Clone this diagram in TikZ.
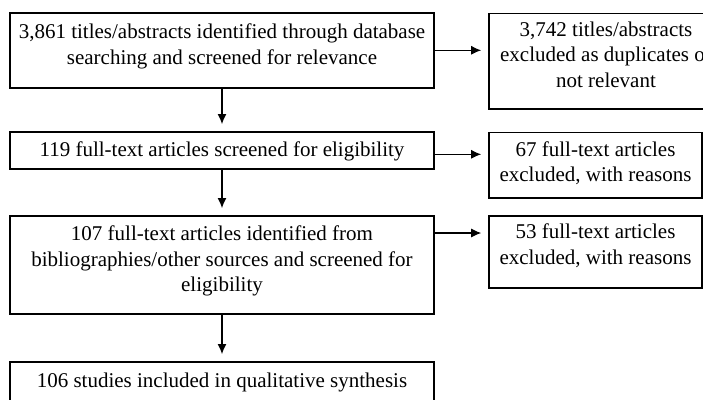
\documentclass[tikz,border=0pt]{standalone}
\usepackage{fontspec}
\setmainfont{Liberation Serif}
\usetikzlibrary{arrows.meta,positioning}

\begin{document}
\begin{tikzpicture}
	[x=1pt, y=-1pt, font=\fontsize{21}{25.5}\selectfont,
	% STYLES
	% The stage style is used for the boxes of the main column
	stage/.style={rectangle, draw, line width=1.6pt, inner xsep=2pt, inner ysep=0pt, anchor=north, align=center, minimum width=424pt},
	% The excluded style is used for the boxes on the right
	excluded/.style={rectangle, draw, line width=1.6pt, inner xsep=2pt, inner ysep=0pt, anchor=north, align=center},
	% The flow style is used for the arrows
	flow/.style={-{Latex[length=10pt,width=9pt]}, line width=1.1pt, shorten >=7pt}]
	\useasboundingbox (0,0) rectangle (703,399);
	\clip (0,0) rectangle (703,399);
	% Draw stages
	\node [stage, text height=51.5pt, text depth=23.5pt] (found) at (222,12) {3,861 titles/abstracts identified through database\\searching and screened for relevance};
	\node [stage, text height=25pt, text depth=12pt] (screened) at (222,131) {119 full-text articles screened for eligibility};
	\node [stage, text height=76pt, text depth=22pt] (other) at (222,215) {107 full-text articles identified from\\bibliographies/other sources and screened for\\eligibility};
	\node [stage, text height=26pt, text depth=18pt] (included) at (222,361) {106 studies included in qualitative synthesis};
	% Draw exclusions
	\node [excluded, minimum width=234pt, text height=74pt, text depth=21.8pt] (dupl) at (606,12.5) {3,742 titles/abstracts\\excluded as duplicates or\\not relevant};
	\node [excluded, minimum width=213pt, text height=49.2pt, text depth=16.3pt] (excl-a) at (595.5,131.5) {67 full-text articles\\excluded, with reasons};
	\node [excluded, minimum width=213pt, text height=48.3pt, text depth=24pt] (excl-b) at (595.5,215) {53 full-text articles\\excluded, with reasons};
	% Draw the links between stages
	\path[flow]
	(found) edge (screened)
	(screened) edge (other)
	(other) edge (included)
	(found.east) edge (found.east -| dupl.west);
	\draw[flow] ([yshift=-4pt]screened.east) -- ([yshift=-4pt]screened.east -| excl-a.west);
	\draw[flow] ([yshift=-18pt]other.north east) -- ([yshift=-18pt]excl-b.north west);
\end{tikzpicture}
\end{document}
